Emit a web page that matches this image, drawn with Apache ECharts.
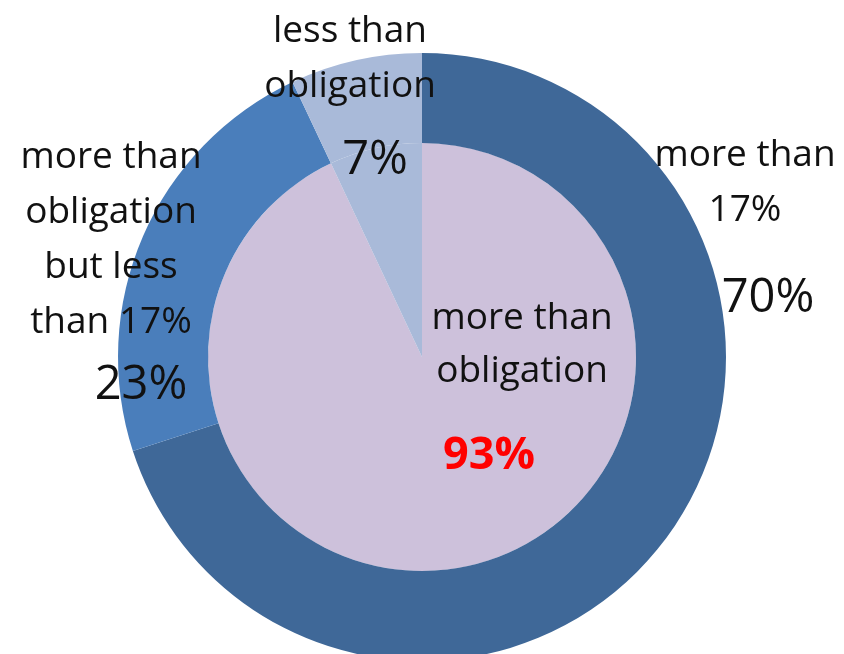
<!DOCTYPE html>
<html>
<head>
<meta charset="utf-8">
<script src="https://cdn.jsdelivr.net/npm/echarts@6/dist/echarts.min.js"></script>
<style>
html,body{margin:0;padding:0;background:#fff;}
#chart{width:844px;height:654px;}
</style>
</head>
<body>
<div id="chart"></div>
<script>
// ---- data ----
var innerNames = ['more than obligation', 'less than obligation'];
var innerValues = [93, 7];
var innerLabelText = ['more than\nobligation', ''];

var outerNames = ['more than 17%', 'more than obligation but less than 17%', 'less than obligation'];
var outerValues = [70, 23, 7];
var outerLabelText = ['more than\n17%', 'more than\nobligation\nbut less\nthan 17%', 'less than\nobligation'];

// ---- styles / layout ----
var innerColors = ['#CDC1DB', '#A9BAD9'];
var outerColors = ['#3F6898', '#4A7EBB', '#A9BAD9'];
var CENTER = [422, 357];
var R_IN = 214, R_OUT = 304;
var FONT = '"Open Sans", Lato, sans-serif';

var outerNamePos = [[745, 183], [111, 240], [350, 59]];
var outerPctPos = [[768, 299], [141, 386], [375, 161]];
var innerNamePos = [[522, 345], null];
var innerPctPos = [[489, 456], null];

function layoutFrom(pos) {
  return function (p) {
    var q = pos[p.dataIndex];
    if (!q) return {};
    return { x: q[0], y: q[1], align: 'center', verticalAlign: 'middle' };
  };
}

function build(names, values, colors) {
  return names.map(function (n, i) {
    return { name: n, value: values[i], itemStyle: { color: colors[i] } };
  });
}

var baseLabel = {
  show: true, position: 'inside', color: '#111', fontFamily: FONT
};

var option = {
  backgroundColor: '#fff',
  animation: false,
  series: [
    {
      type: 'pie', center: CENTER, radius: [0, R_IN], startAngle: 90, clockwise: true,
      avoidLabelOverlap: false, silent: true,
      itemStyle: { borderWidth: 0 },
      data: build(innerNames, innerValues, innerColors),
      label: Object.assign({}, baseLabel, {
        fontSize: 37, lineHeight: 53,
        formatter: function (p) { return innerLabelText[p.dataIndex]; }
      }),
      labelLine: { show: false },
      labelLayout: layoutFrom(innerNamePos)
    },
    {
      type: 'pie', center: CENTER, radius: [R_IN, R_OUT], startAngle: 90, clockwise: true,
      avoidLabelOverlap: false, silent: true,
      itemStyle: { borderWidth: 0 },
      data: build(outerNames, outerValues, outerColors),
      label: Object.assign({}, baseLabel, {
        fontSize: 37, lineHeight: 55,
        formatter: function (p) { return outerLabelText[p.dataIndex]; }
      }),
      labelLine: { show: false },
      labelLayout: layoutFrom(outerNamePos)
    },
    {
      type: 'pie', center: CENTER, radius: [R_IN, R_OUT], startAngle: 90, clockwise: true,
      avoidLabelOverlap: false, silent: true,
      itemStyle: { color: 'rgba(0,0,0,0)', borderWidth: 0 },
      data: outerNames.map(function (n, i) { return { name: n, value: outerValues[i] }; }),
      label: Object.assign({}, baseLabel, {
        fontSize: 47,
        formatter: function (p) { return Math.round(p.percent) + '%'; }
      }),
      labelLine: { show: false },
      labelLayout: layoutFrom(outerPctPos)
    },
    {
      type: 'pie', center: CENTER, radius: [0, R_IN], startAngle: 90, clockwise: true,
      avoidLabelOverlap: false, silent: true,
      itemStyle: { color: 'rgba(0,0,0,0)', borderWidth: 0 },
      data: innerNames.map(function (n, i) { return { name: n, value: innerValues[i] }; }),
      label: Object.assign({}, baseLabel, {
        fontSize: 45, fontWeight: 'bold', color: '#FF0000',
        formatter: function (p) { return innerPctPos[p.dataIndex] ? Math.round(p.percent) + '%' : ''; }
      }),
      labelLine: { show: false },
      labelLayout: layoutFrom(innerPctPos)
    }
  ]
};

var chart = echarts.init(document.getElementById('chart'), null, { renderer: 'canvas' });
chart.setOption(option);
</script>
</body>
</html>
